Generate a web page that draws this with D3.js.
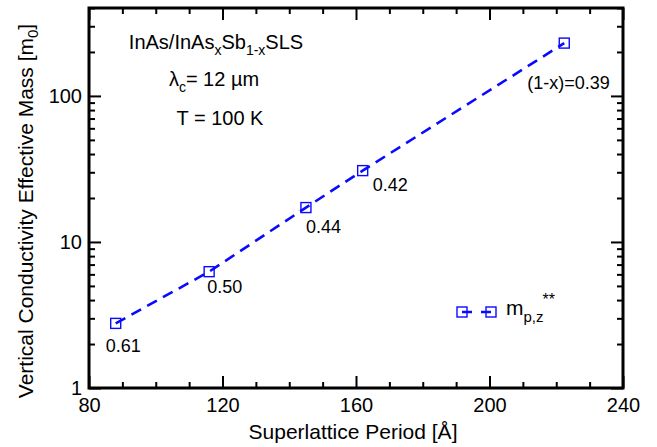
<!DOCTYPE html>
<html>
<head>
<meta charset="utf-8">
<script src="https://cdn.jsdelivr.net/npm/d3@7"></script>
<style>
  html, body { margin: 0; padding: 0; background: #fff; }
  svg { display: block; font-family: "Liberation Sans", Arial, sans-serif; }
</style>
</head>
<body>
<svg id="chart" width="657" height="447"></svg>
<script>
// Superlattice period (Å) vs. vertical conductivity effective mass (m0)
const periods = [88, 116, 145, 162, 222.4];
const masses = [2.77, 6.26, 17.2, 30.8, 230];
const compositions = ["0.61", "0.50", "0.44", "0.42", "(1-x)=0.39"];
const xTicks = [80, 120, 160, 200, 240];
const yTicks = [1, 10, 100];

const W = 657, H = 447;
const margin = { left: 89, right: 34, top: 8, bottom: 59 };
const svg = d3.select("#chart");

const x = d3.scaleLinear().domain([80, 240]).range([margin.left, W - margin.right]);
const y = d3.scaleLog().domain([1, 400]).range([H - margin.bottom, margin.top]);

const blue = "#0a0aff";
const x0 = x.range()[0], x1 = x.range()[1];
const y0 = y.range()[0], y1 = y.range()[1];

// minor tick values
const xMinor = d3.range(80, 241, 10).filter(v => !xTicks.includes(v));
const yMinor = [];
[1, 10, 100].forEach(d => { for (let k = 2; k <= 9; k++) if (d * k <= 400) yMinor.push(d * k); });

function styleAxis(g, sw) {
  g.select(".domain").remove();
  g.selectAll(".tick line").attr("stroke", "#000").attr("stroke-width", sw);
  g.selectAll(".tick text").attr("fill", "#000").attr("font-size", 20);
}

// bottom axis
svg.append("g").attr("transform", `translate(0,${y0})`)
  .call(d3.axisBottom(x).tickValues(xTicks).tickSize(-12).tickPadding(10).tickFormat(d3.format("d")))
  .call(g => styleAxis(g, 2));
svg.append("g").attr("transform", `translate(0,${y0})`)
  .call(d3.axisBottom(x).tickValues(xMinor).tickSize(-6).tickFormat(""))
  .call(g => styleAxis(g, 2));
// top axis
svg.append("g").attr("transform", `translate(0,${y1})`)
  .call(d3.axisTop(x).tickValues(xTicks).tickSize(-12).tickFormat(""))
  .call(g => styleAxis(g, 2));
svg.append("g").attr("transform", `translate(0,${y1})`)
  .call(d3.axisTop(x).tickValues(xMinor).tickSize(-6).tickFormat(""))
  .call(g => styleAxis(g, 2));
// left axis
svg.append("g").attr("transform", `translate(${x0},0)`)
  .call(d3.axisLeft(y).tickValues(yTicks).tickSize(-12).tickPadding(7).tickFormat(d3.format("d")))
  .call(g => styleAxis(g, 2));
svg.append("g").attr("transform", `translate(${x0},0)`)
  .call(d3.axisLeft(y).tickValues(yMinor).tickSize(-6).tickFormat(""))
  .call(g => styleAxis(g, 2));
// right axis
svg.append("g").attr("transform", `translate(${x1},0)`)
  .call(d3.axisRight(y).tickValues(yTicks).tickSize(-12).tickFormat(""))
  .call(g => styleAxis(g, 2));
svg.append("g").attr("transform", `translate(${x1},0)`)
  .call(d3.axisRight(y).tickValues(yMinor).tickSize(-6).tickFormat(""))
  .call(g => styleAxis(g, 2));

// frame
svg.append("rect")
  .attr("x", x0).attr("y", y1).attr("width", x1 - x0).attr("height", y0 - y1)
  .attr("fill", "none").attr("stroke", "#000").attr("stroke-width", 3);

// dashed curve
const pts = periods.map((p, i) => [p, masses[i]]);
svg.append("path")
  .datum(pts)
  .attr("d", d3.line().x(d => x(d[0])).y(d => y(d[1])))
  .attr("fill", "none").attr("stroke", blue).attr("stroke-width", 2.6)
  .attr("stroke-dasharray", "11,7");

// open square markers
const sq = 10;
svg.append("g").selectAll("rect").data(pts).join("rect")
  .attr("x", d => x(d[0]) - sq / 2).attr("y", d => y(d[1]) - sq / 2)
  .attr("width", sq).attr("height", sq)
  .attr("fill", "none").attr("stroke", blue).attr("stroke-width", 1.4);

// composition labels
const labelOffsets = [[-10, 29], [-2, 21], [0, 25], [10, 20], [-37, 46]];
svg.append("g").selectAll("text").data(pts).join("text")
  .attr("x", (d, i) => x(d[0]) + labelOffsets[i][0])
  .attr("y", (d, i) => y(d[1]) + labelOffsets[i][1])
  .attr("font-size", 18).attr("fill", "#000")
  .text((d, i) => compositions[i]);

// legend
const lg = svg.append("g").attr("transform", "translate(462,312)");
lg.append("line").attr("x1", 0).attr("x2", 29).attr("y1", 0).attr("y2", 0)
  .attr("stroke", blue).attr("stroke-width", 2.5).attr("stroke-dasharray", "10,9");
[0, 29].forEach(cx => lg.append("rect")
  .attr("x", cx - sq / 2).attr("y", -sq / 2).attr("width", sq).attr("height", sq)
  .attr("fill", "none").attr("stroke", blue).attr("stroke-width", 1.4));
const lt = lg.append("text").attr("x", 44).attr("y", 3).attr("font-size", 21).attr("fill", "#000");
lt.append("tspan").text("m");
lt.append("tspan").attr("font-size", 15).attr("dy", 7).text("p,z");
lt.append("tspan").attr("font-size", 16).attr("dx", -1).attr("dy", -17).text("**");

// annotation block
const t1 = svg.append("text").attr("x", 216).attr("y", 49).attr("text-anchor", "middle")
  .attr("font-size", 20).attr("fill", "#000");
t1.append("tspan").text("InAs/InAs");
t1.append("tspan").attr("font-size", 14).attr("dy", 6).text("x");
t1.append("tspan").attr("dy", -6).text("Sb");
t1.append("tspan").attr("font-size", 14).attr("dy", 6).text("1-x");
t1.append("tspan").attr("dy", -6).text("SLS");

const t2 = svg.append("text").attr("x", 214).attr("y", 86).attr("text-anchor", "middle")
  .attr("font-size", 20).attr("fill", "#000");
t2.append("tspan").text("λ");
t2.append("tspan").attr("font-size", 14).attr("dy", 6).text("c");
t2.append("tspan").attr("dy", -6).text("= 12 µm");

svg.append("text").attr("x", 220).attr("y", 125).attr("text-anchor", "middle")
  .attr("font-size", 20).attr("fill", "#000").text("T = 100 K");

// axis titles
svg.append("text").attr("x", (x0 + x1) / 2 - 3).attr("y", 439).attr("text-anchor", "middle")
  .attr("font-size", 21).attr("fill", "#000").text("Superlattice Period [Å]");

const yl = svg.append("text").attr("transform", "translate(33,211) rotate(-90)")
  .attr("text-anchor", "middle").attr("font-size", 21).attr("fill", "#000");
yl.append("tspan").text("Vertical Conductivity Effective Mass [m");
yl.append("tspan").attr("font-size", 15).attr("dy", 5).text("0");
yl.append("tspan").attr("dy", -5).text("]");
</script>
</body>
</html>
